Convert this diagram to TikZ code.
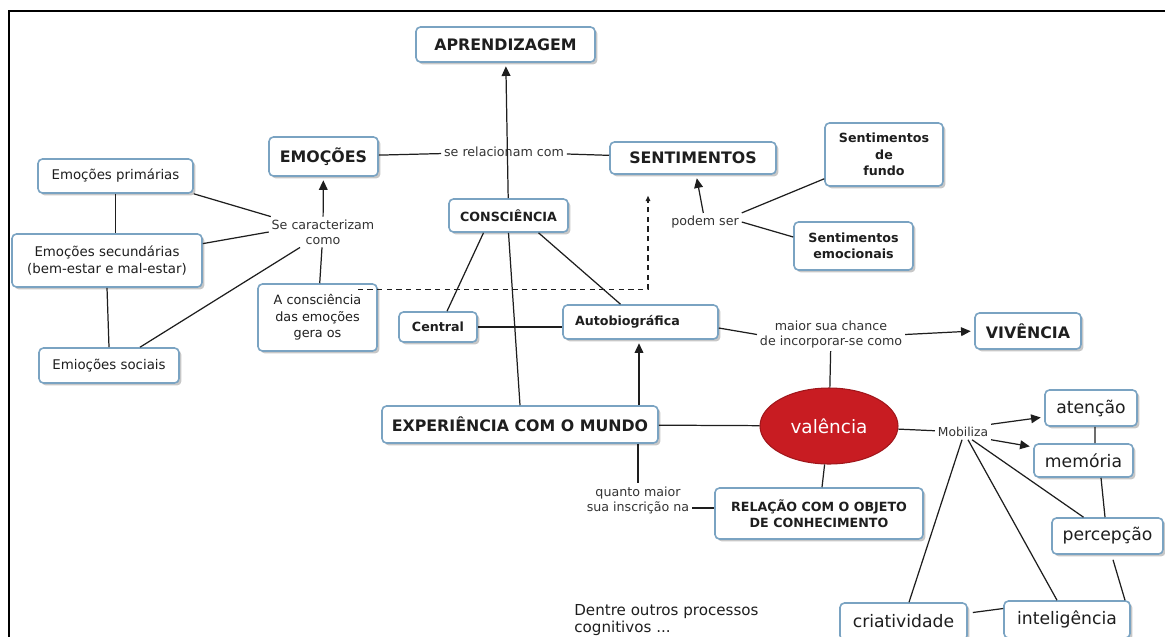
\documentclass[tikz,border=0pt]{standalone}
\usepackage{fontspec}
\setmainfont{DejaVu Sans}
\usetikzlibrary{arrows.meta,shapes.geometric,shadows}

\definecolor{cmapborder}{RGB}{122,163,194}
\definecolor{cmapred}{RGB}{200,28,34}
\definecolor{cmapink}{RGB}{30,30,30}

\newcommand\cmapbig{\bfseries\fontsize{9}{11}\selectfont}
\newcommand\cmapbold{\bfseries\fontsize{7.2}{9.3}\selectfont}
\newcommand\cmaptext{\fontsize{7.6}{9.2}\selectfont}
\newcommand\cmaplink{\fontsize{7.2}{8.6}\selectfont}
\newcommand\cmapproc{\fontsize{9.8}{12}\selectfont}

\tikzset{
  concept/.style   = {rectangle, rounded corners=2.5pt, draw=cmapborder, line width=0.9pt,
                      fill=white, text=cmapink, align=center, inner sep=1pt,
                      drop shadow={shadow xshift=1.4pt, shadow yshift=-1.4pt,
                                   fill=black, opacity=0.22}},
  boxdim/.style 2 args = {minimum width=#1, minimum height=#2},
  link/.style      = {inner sep=1.5pt, align=center, font=\cmaplink, text=black!80},
  wire/.style      = {line width=0.7pt, draw=cmapink},
  arrowwire/.style = {wire, -{Triangle[length=5.5pt,width=5pt]}, shorten >=2pt},
  dashwire/.style  = {line width=0.7pt, draw=cmapink, dash pattern=on 3pt off 2.5pt,
                      -{Triangle[length=3pt,width=2.6pt]}},
}

\begin{document}
\begin{tikzpicture}[x=0.02cm, y=-0.02cm,
    bigbox/.style={concept, font=\cmapbig},
    smallbox/.style={concept, font=\cmapbold},
    textbox/.style={concept, font=\cmaptext},
    procbox/.style={concept, font=\cmapproc},
  ]
  \useasboundingbox (0,0) rectangle (1165,636);
  \clip (0,0) rectangle (1165,636);

  % ---- frame -------------------------------------------------------------
  \draw[line width=1.2pt] (9,640) -- (9,11) -- (1170,11);

  % ---- upper part: aprendizagem, emoções, sentimentos --------------------
  \node[bigbox, boxdim={3.58cm}{0.70cm}] (aprend) at (505.5,44.5) {APRENDIZAGEM};
  \node[bigbox, boxdim={2.18cm}{0.78cm}] (emocoes) at (323.5,156.5) {EMOÇÕES};
  \node[bigbox, boxdim={3.32cm}{0.64cm}] (sentim) at (693,158) {SENTIMENTOS};
  \node[smallbox, boxdim={2.38cm}{0.66cm}] (consc) at (508.5,215.5) {CONSCIÊNCIA};
  \node[link] (relac) at (504,152) {se relacionam com};

  \node[textbox, boxdim={3.10cm}{0.68cm}] (prim) at (115.5,176) {Emoções primárias};
  \node[textbox, boxdim={3.80cm}{1.06cm}] (secund) at (107,260.5)
       {Emoções secundárias\\(bem-estar e mal-estar)};
  \node[textbox, boxdim={2.80cm}{0.70cm}] (sociais) at (109,365.5) {Emioções sociais};
  \node[link] (caract) at (323,232) {Se caracterizam\\como};
  \node[textbox, boxdim={2.38cm}{1.34cm}, font=\fontsize{7.3}{9.3}\selectfont]
       (aconsc) at (317.5,317.5) {A consciência\\das emoções\\gera os};

  \node[link] (podem) at (705,222) {podem ser};
  \node[smallbox, boxdim={2.36cm}{1.26cm}] (sfundo) at (884,154.5)
       {Sentimentos\\de\\fundo};
  \node[smallbox, boxdim={2.38cm}{0.96cm}] (semoc) at (853.5,246)
       {Sentimentos\\emocionais};

  % ---- middle: central, autobiográfica, experiência ----------------------
  \node[smallbox, boxdim={1.56cm}{0.60cm}] (central) at (438,327) {Central};
  \node[smallbox, boxdim={3.10cm}{0.68cm}, inner xsep=0.24cm, text width=2.62cm,
        align=left] (autob) at (640.5,322) {Autobiográfica};
  \node[bigbox, boxdim={5.52cm}{0.74cm}] (experi) at (520,424.5)
       {EXPERIÊNCIA COM O MUNDO};
  \node[link] (maior) at (831,334.5) {maior sua chance\\de incorporar-se como};
  \node[bigbox, boxdim={2.12cm}{0.72cm}] (vivencia) at (1028,331) {VIVÊNCIA};

  \node[ellipse, draw=cmapred!80!black, line width=0.6pt, fill=cmapred, inner sep=0pt,
        minimum width=2.76cm, minimum height=1.52cm, text=white,
        font=\fontsize{10.5}{12}\selectfont] (valencia) at (829,426) {valência};

  \node[link] (quanto) at (638,500) {quanto maior\\sua inscrição na};
  \node[smallbox, boxdim={4.16cm}{1.02cm}] (relobj) at (819,513.5)
       {RELAÇÃO COM O OBJETO\\DE CONHECIMENTO};

  % ---- processes mobilised -----------------------------------------------
  \node[link, font=\fontsize{7}{8}\selectfont] (mobil) at (963,432) {Mobiliza};
  \node[procbox, boxdim={1.84cm}{0.72cm}] (atencao) at (1091,408) {atenção};
  \node[procbox, boxdim={1.98cm}{0.66cm}] (memoria) at (1083.5,460.5) {memória};
  \node[procbox, boxdim={2.22cm}{0.72cm}] (percep) at (1107.5,536) {percepção};
  \node[procbox, boxdim={2.52cm}{0.74cm}] (intel) at (1067,619.5) {inteligência};
  \node[procbox, boxdim={2.54cm}{0.74cm}] (criat) at (903.5,621.5) {criatividade};

  \node[anchor=north west, align=left, inner sep=0pt, text=cmapink,
        font=\fontsize{8.6}{10}\selectfont] (outros) at (574,604)
       {Dentre outros processos\\cognitivos ...};

  % ---- connectors: emoções side ------------------------------------------
  \draw[wire] (emocoes) -- (relac) -- (sentim);
  \draw[arrowwire] (consc) -- (aprend);
  \draw[arrowwire] (caract) -- (emocoes);
  \draw[wire] (prim.south east) -- (caract);
  \draw[wire] (secund) -- (caract.west);
  \draw[wire] ([shift={(31,0)}]sociais.north) -- ([shift={(-23,0)}]caract.south);
  \draw[wire] (caract) -- (aconsc);
  \draw[wire] (prim.south) -- (prim.south |- secund.north);
  \draw[wire] (secund.south) -- (sociais.north);
  \draw[dashwire] ([shift={(-20,6)}]aconsc.north east) -| ([shift={(-45,21)}]sentim.south);

  % ---- connectors: sentimentos side --------------------------------------
  \draw[arrowwire] (podem) -- (sentim);
  \draw[wire] (podem.north east) -- ([shift={(0,-8)}]sfundo.south west);
  \draw[wire] (podem.east) -- ([shift={(0,-9)}]semoc.west);

  % ---- connectors: consciência and experiência ---------------------------
  \draw[wire] ([shift={(-25,0)}]consc.south) -- ([shift={(9,0)}]central.north);
  \draw[wire] (consc.south) -- (experi.north);
  \draw[wire] ([shift={(30,0)}]consc.south) -- ([shift={(-20,0)}]autob.north);
  \draw[wire] (central.east) -- (central.east -| autob.west);
  \draw[arrowwire] ([shift={(119,0)}]experi.north) -- ([shift={(-1.5,0)}]autob.south);
  \draw[wire] (experi) -- (valencia);
  \draw[wire] ([shift={(118,0)}]experi.south) -- (quanto.north);
  \draw[wire] ([shift={(0,8)}]quanto.east) -- ([shift={(0,-5.5)}]relobj.west);
  \draw[wire] (valencia) -- (relobj);
  \draw[wire] ([shift={(0,6)}]autob.east) -- (maior.west);
  \draw[arrowwire] (maior.east) -- (vivencia.west);
  \draw[wire] (maior) -- (valencia);

  % ---- connectors: mobiliza ----------------------------------------------
  \draw[wire] (valencia) -- (mobil);
  \draw[arrowwire] (mobil.north east) -- ([shift={(0,9)}]atencao.west);
  \draw[arrowwire] (mobil.south east) -- ([shift={(0,-13.5)}]memoria.west);
  \draw[wire] ([shift={(9,0)}]mobil.south) -- ([shift={(-24,0)}]percep.north);
  \draw[wire] ([shift={(5,0)}]mobil.south) -- ([shift={(-10,0)}]intel.north);
  \draw[wire] ([shift={(-1,0)}]mobil.south) -- ([shift={(5.5,0)}]criat.north);
  \draw[wire] ([shift={(4,0)}]atencao.south) -- ([shift={(11.5,0)}]memoria.north);
  \draw[wire] ([shift={(17.5,0)}]memoria.south) -- ([shift={(-2.5,0)}]percep.north);
  \draw[wire] ([shift={(5.5,5)}]percep.south) -- ([shift={(58,0)}]intel.north);
  \draw[wire] ([shift={(5,-9)}]criat.east) -- ([shift={(0,-11)}]intel.west);
\end{tikzpicture}
\end{document}
